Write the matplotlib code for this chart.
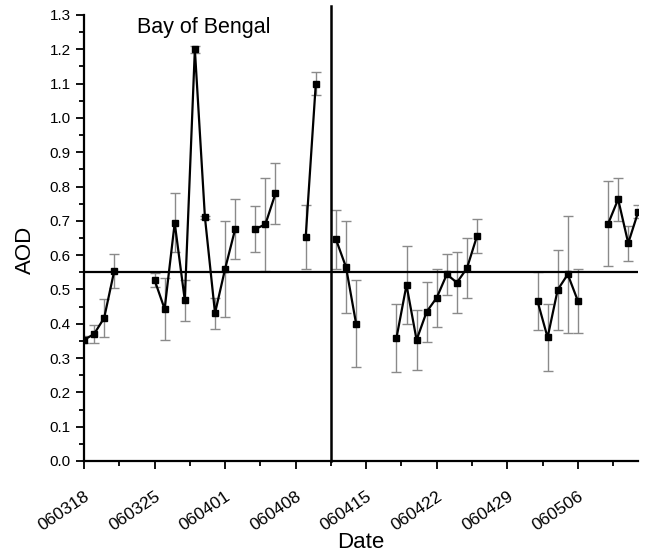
import numpy as np
import pandas as pd
import matplotlib
matplotlib.use("Agg")
import matplotlib.pyplot as plt

plt.rcParams['font.family'] = ['Liberation Sans', 'DejaVu Sans']

# observation dates (yymmdd) and mean AOD with error
dates = ['060318', '060319', '060320', '060321',
         '060325', '060326', '060327', '060328', '060329', '060330', '060331', '060401', '060402',
         '060404', '060405', '060406',
         '060409', '060410',
         '060412', '060413', '060414',
         '060418', '060419', '060420', '060421', '060422', '060423', '060424', '060425', '060426',
         '060502', '060503', '060504', '060505', '060506',
         '060509', '060510', '060511', '060512']
aod = [0.353, 0.37, 0.417, 0.554,
       0.528, 0.443, 0.694, 0.469, 1.20, 0.71, 0.431, 0.56, 0.676,
       0.676, 0.69, 0.78,
       0.654, 1.10,
       0.646, 0.565, 0.40,
       0.358, 0.513, 0.353, 0.435, 0.476, 0.544, 0.52, 0.562, 0.656,
       0.466, 0.36, 0.499, 0.544, 0.467,
       0.691, 0.763, 0.635, 0.727]
aod_err = [0.01, 0.025, 0.055, 0.05,
           0.02, 0.09, 0.086, 0.06, 0.01, 0.005, 0.045, 0.14, 0.087,
           0.068, 0.135, 0.088,
           0.093, 0.033,
           0.085, 0.134, 0.127,
           0.1, 0.113, 0.088, 0.087, 0.085, 0.06, 0.09, 0.088, 0.05,
           0.084, 0.098, 0.117, 0.17, 0.094,
           0.124, 0.063, 0.051, 0.02]

tick_labels = ['060318', '060325', '060401', '060408', '060415', '060422', '060429', '060506']
end_date = '060512'
mean_aod = 0.55
split_date = '060411'  # vertical marker, noon

start = pd.to_datetime(dates[0], format='%y%m%d')
def to_days(s):
    return (pd.to_datetime(s, format='%y%m%d') - start) / pd.Timedelta(days=1)

x = np.array([to_days(d) for d in dates])
y = np.array(aod)
e = np.array(aod_err)

fig = plt.figure(figsize=(6.58, 5.55), dpi=100)
ax = fig.add_axes([84 / 658, 94 / 555, 554.3 / 658, 446 / 555])

ax.errorbar(x, y, yerr=e, fmt='none', ecolor='#8a8a8a', elinewidth=1.0,
            capsize=3.5, capthick=1.0, zorder=2)

# connect only consecutive days
breaks = np.where(np.diff(x) > 1)[0] + 1
for seg in np.split(np.arange(len(x)), breaks):
    ax.plot(x[seg], y[seg], color='black', lw=1.6, marker='s', ms=4.5,
            zorder=3)

ax.axhline(mean_aod, color='black', lw=1.6, zorder=4)
ax.axvline(to_days(split_date) + 0.5, ymin=0, ymax=1.02, color='black',
           lw=1.8, clip_on=False, zorder=4)

ax.set_xlim(0, to_days(end_date))
ax.set_ylim(0, 1.3)

ax.set_xticks([to_days(t) for t in tick_labels])
ax.set_xticklabels(tick_labels, rotation=34, ha='right', rotation_mode='anchor',
                   fontsize=12.5)
ax.set_xticks(np.arange(3.5, to_days(end_date), 7), minor=True)
ax.set_yticks(np.arange(0, 1.31, 0.1))
ax.set_yticklabels(['%.1f' % v for v in np.arange(0, 1.31, 0.1)], fontsize=11)
ax.set_yticks(np.arange(0.05, 1.3, 0.1), minor=True)
ax.tick_params(which='major', direction='out', length=6, width=1.3)
ax.tick_params(which='minor', direction='out', length=3.5, width=1.3)
ax.tick_params(axis='x', which='major', pad=14)

for side in ['top', 'right']:
    ax.spines[side].set_visible(False)
for side in ['left', 'bottom']:
    ax.spines[side].set_linewidth(1.6)

ax.set_xlabel('Date', fontsize=16, va='center')
ax.xaxis.set_label_coords(0.5, -0.182)
ax.set_ylabel('AOD', fontsize=16, va='center')
ax.yaxis.set_label_coords(-0.106, 0.473)
ax.text(0.0957, 0.973, 'Bay of Bengal', transform=ax.transAxes,
        fontsize=15.5, va='center', ha='left')

fig.savefig('out.png', dpi=100)
